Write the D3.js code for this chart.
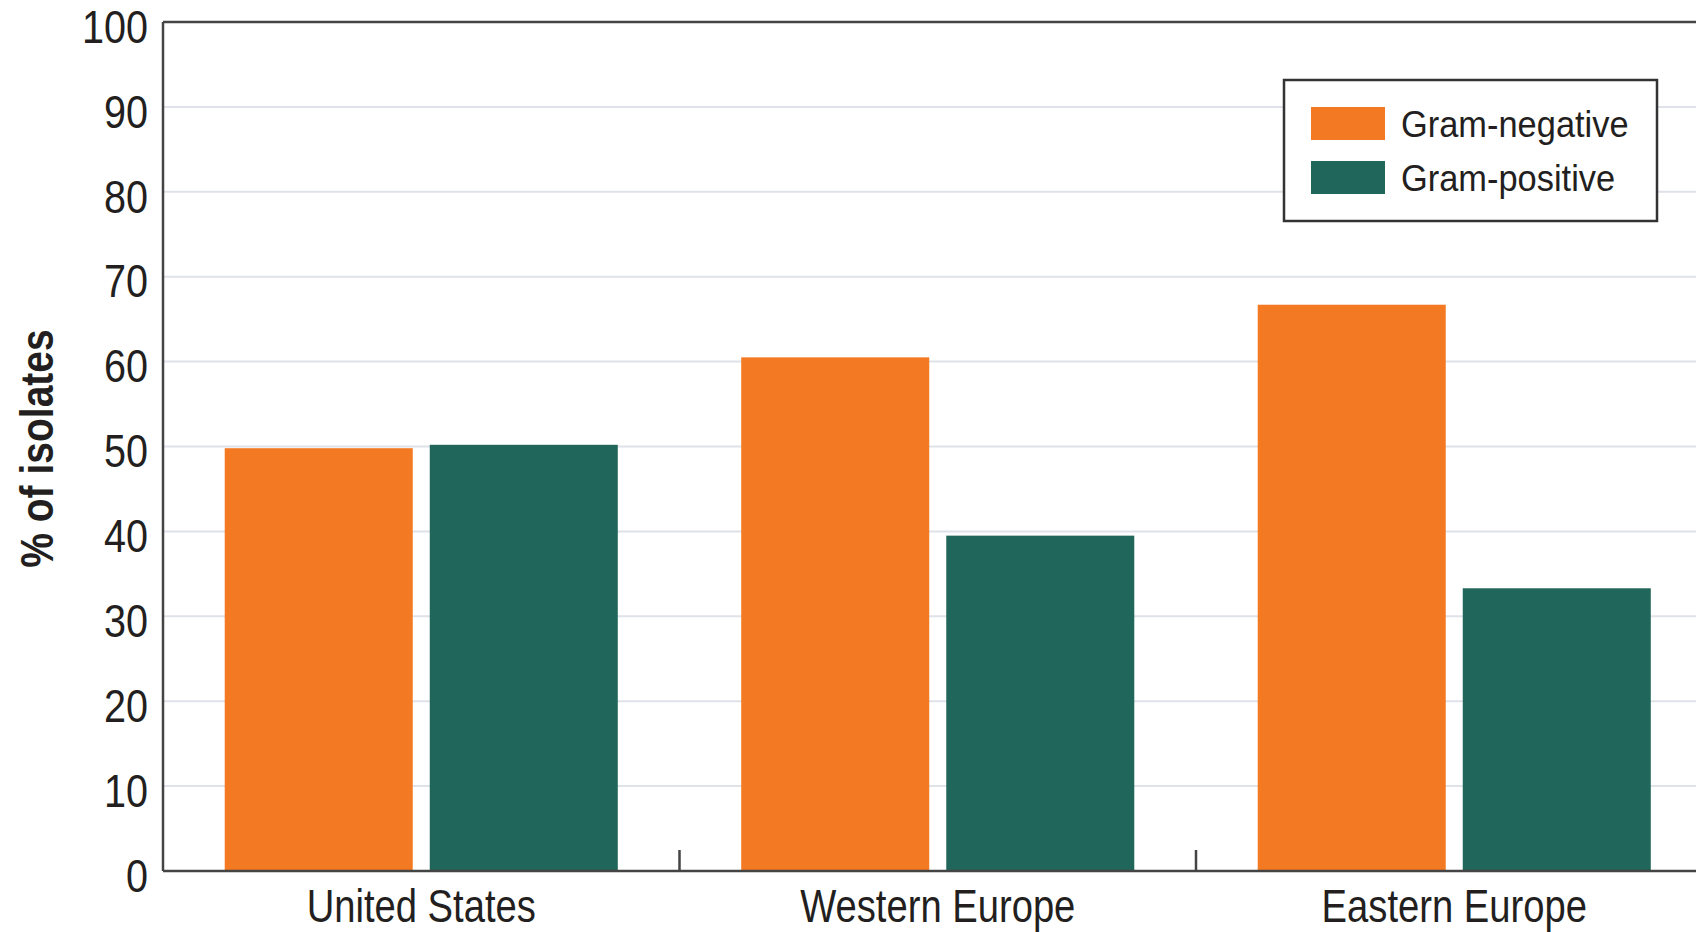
<!DOCTYPE html>
<html>
<head>
<meta charset="utf-8">
<script src="https://cdn.jsdelivr.net/npm/d3@7"></script>
<style>
  html, body { margin: 0; padding: 0; background: #ffffff; }
  svg { display: block; }
  text { font-family: "Liberation Sans", Arial, sans-serif; fill: #231f20; }
</style>
</head>
<body>
<svg id="chart" width="1696" height="932"></svg>
<script>
// Share of isolates by Gram stain, per region
const categories = ["United States", "Western Europe", "Eastern Europe"];
const seriesNames = ["Gram-negative", "Gram-positive"];
const gramNegative = [49.8, 60.5, 66.7];
const gramPositive = [50.2, 39.5, 33.3];
const yTicks = [0, 10, 20, 30, 40, 50, 60, 70, 80, 90, 100];
const yTitle = "% of isolates";

const colors = { "Gram-negative": "#f37a23", "Gram-positive": "#20665a" };

const rows = categories.map((c, i) => ({
  category: c,
  values: [
    { key: "Gram-negative", value: gramNegative[i] },
    { key: "Gram-positive", value: gramPositive[i] }
  ]
}));

const svg = d3.select("#chart");
const plotLeft = 163, plotTop = 22, plotBottom = 871, bandW = 516.5;
const plotRight = plotLeft + bandW * categories.length;

const x0 = d3.scaleBand().domain(categories).range([plotLeft, plotRight]).padding(0);
const x1 = d3.scaleBand().domain(seriesNames).range([0, x0.bandwidth()])
  .paddingInner(0.083).paddingOuter(0.301);
const y = d3.scaleLinear().domain([0, 100]).range([plotBottom, plotTop]);

// condense text horizontally to a narrow face
function condense(sel, k) {
  sel.each(function () {
    const w = this.getComputedTextLength();
    d3.select(this).attr("textLength", w * k).attr("lengthAdjust", "spacingAndGlyphs");
  });
}

// gridlines
svg.append("g").selectAll("line")
  .data(yTicks.filter(d => d > 0 && d < 100))
  .join("line")
  .attr("x1", plotLeft).attr("x2", plotRight)
  .attr("y1", d => y(d)).attr("y2", d => y(d))
  .attr("stroke", "#dfe2e8").attr("stroke-width", 2);

// bars
const groups = svg.append("g").selectAll("g")
  .data(rows).join("g")
  .attr("transform", d => `translate(${x0(d.category)},0)`);
groups.selectAll("rect")
  .data(d => d.values).join("rect")
  .attr("x", d => x1(d.key))
  .attr("width", x1.bandwidth())
  .attr("y", d => y(d.value))
  .attr("height", d => y(0) - y(d.value))
  .attr("fill", d => colors[d.key]);

// y axis labels
const yAxis = svg.append("g")
  .attr("transform", `translate(${plotLeft},0)`)
  .call(d3.axisLeft(y).tickValues(yTicks).tickSize(0).tickPadding(15));
yAxis.select(".domain").remove();
yAxis.attr("font-family", null);
yAxis.selectAll("text")
  .attr("font-size", 46)
  .attr("dy", "0.44em");
condense(yAxis.selectAll("text"), 0.86);

// x axis labels
const xAxis = svg.append("g")
  .attr("transform", `translate(0,${plotBottom})`)
  .call(d3.axisBottom(x0).tickSize(0).tickPadding(0));
xAxis.select(".domain").remove();
xAxis.attr("font-family", null);
xAxis.selectAll("text")
  .attr("font-size", 46)
  .attr("dy", null)
  .attr("y", 51);
condense(xAxis.selectAll("text"), 0.83);

// frame: left axis, top and bottom lines, category separators
const frame = svg.append("g").attr("stroke", "#444").attr("stroke-width", 2.5).attr("fill", "none");
frame.append("line").attr("x1", plotLeft).attr("x2", plotLeft).attr("y1", y(100)).attr("y2", y(0));
frame.append("line").attr("x1", plotLeft).attr("x2", plotRight).attr("y1", y(100)).attr("y2", y(100));
frame.append("line").attr("x1", plotLeft).attr("x2", plotRight).attr("y1", y(0)).attr("y2", y(0));
frame.selectAll("line.sep")
  .data(categories.slice(1)).join("line").attr("class", "sep")
  .attr("x1", d => x0(d)).attr("x2", d => x0(d))
  .attr("y1", y(0)).attr("y2", y(0) - 21);

// y axis title
const title = svg.append("text")
  .attr("transform", `translate(53,${(y(0) + y(100)) / 2 + 2}) rotate(-90)`)
  .attr("text-anchor", "middle")
  .attr("font-size", 47)
  .attr("font-weight", "bold")
  .text(yTitle);
condense(title, 0.83);

// legend
const legend = svg.append("g").attr("transform", "translate(1284,80)");
legend.append("rect")
  .attr("width", 373).attr("height", 141)
  .attr("fill", "#fff").attr("stroke", "#333").attr("stroke-width", 2.5);
const items = legend.selectAll("g.item")
  .data(seriesNames).join("g").attr("class", "item")
  .attr("transform", (d, i) => `translate(27,${27 + i * 54})`);
items.append("rect")
  .attr("width", 74).attr("height", 33)
  .attr("fill", d => colors[d]);
const legendText = items.append("text")
  .attr("x", 90).attr("y", 30)
  .attr("font-size", 37)
  .text(d => d);
condense(legendText, 0.93);
</script>
</body>
</html>
